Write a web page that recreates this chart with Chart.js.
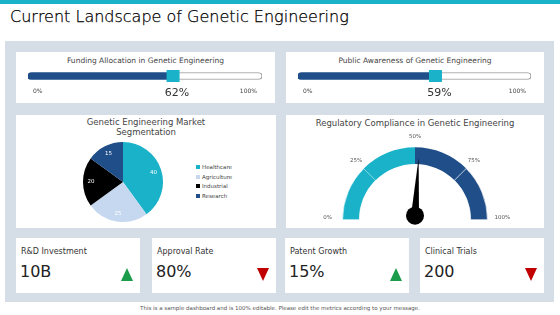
<!DOCTYPE html>
<html>
<head>
<meta charset="utf-8">
<script src="https://cdn.jsdelivr.net/npm/chart.js@4.4.1/dist/chart.umd.min.js"></script>
<style>
  body { margin: 0; width: 560px; height: 315px; position: relative; background: #fff; overflow: hidden;
         font-family: "DejaVu Sans", sans-serif; color: #333; }
  .abs { position: absolute; }
  .topbar { left: 0; top: 0; width: 560px; height: 4px; background: #19b2c9; }
  .title { left: 10px; top: 7px; font-size: 16px; font-weight: 200; color: #000; white-space: nowrap;
           -webkit-text-stroke: 0.25px #000; }
  .panel { left: 5px; top: 41px; width: 549px; height: 261px; background: #d5dee7; }
  .card { background: #fff; }
  .ctitle { font-size: 7.5px; text-align: center; color: #444; white-space: nowrap; }
  .kname { font-size: 8px; color: #333; left: 5px; top: 9px; white-space: nowrap; }
  .kval { font-size: 16px; color: #222; left: 4px; top: 24px; }
  .up { width: 0; height: 0; border-left: 6px solid transparent; border-right: 6px solid transparent;
        border-bottom: 13px solid #1b9c4a; right: 7px; top: 30px; }
  .down { width: 0; height: 0; border-left: 6px solid transparent; border-right: 6px solid transparent;
        border-top: 13px solid #c00000; right: 7px; top: 30px; }
  .legend { font-size: 5.5px; color: #444; }
  .legend div { height: 9.5px; line-height: 9.5px; white-space: nowrap; }
  .legend span { display: inline-block; width: 4px; height: 4px; margin-right: 2px; vertical-align: middle; }
  .footer { left: 0; width: 560px; top: 305px; text-align: center; font-size: 5.5px; color: #555; }
</style>
</head>
<body>
<div class="abs topbar"></div>
<div class="abs title">Current Landscape of Genetic Engineering</div>
<div class="abs panel"></div>

<div class="abs card" style="left:16px;top:52px;width:259px;height:51px"></div>
<div class="abs card" style="left:286px;top:52px;width:258px;height:51px"></div>
<div class="abs card" style="left:16px;top:115px;width:260px;height:113px"></div>
<div class="abs card" style="left:286px;top:115px;width:258px;height:113px"></div>

<div class="abs ctitle" id="pt0" style="left:16px;top:56px;width:259px"></div>
<div class="abs ctitle" id="pt1" style="left:286px;top:56px;width:258px"></div>
<canvas class="abs" id="prog0" style="left:16px;top:52px"></canvas>
<canvas class="abs" id="prog1" style="left:286px;top:52px"></canvas>

<div class="abs ctitle" style="left:16px;top:117px;width:260px;font-size:8.5px;line-height:10px">Genetic Engineering Market<br>Segmentation</div>
<canvas class="abs" id="pie" style="left:80px;top:139px"></canvas>
<div class="abs legend" id="legend" style="left:196px;top:163px"></div>

<div class="abs ctitle" style="left:286px;top:118px;width:258px;font-size:8.5px">Regulatory Compliance in Genetic Engineering</div>
<canvas class="abs" id="gauge" style="left:286px;top:115px"></canvas>

<div id="kpis"></div>
<div class="abs footer">This is a sample dashboard and is 100% editable. Please edit the metrics according to your message.</div>

<script>
const progressTitles = ['Funding Allocation in Genetic Engineering', 'Public Awareness of Genetic Engineering']
const progressValues = [62, 59]
const progressTicks = ['0%', '100%']

const segLabels = ['Healthcare', 'Agriculture', 'Industrial', 'Research']
const segValues = [40, 25, 20, 15]
const segColors = ['#19b2c9', '#c5d8f0', '#000000', '#1f4e89']

const gaugeTicks = ['0%', '25%', '50%', '75%', '100%']
const gaugeBands = [25, 25, 25, 25]
const gaugeColors = ['#19b2c9', '#19b2c9', '#1f4e89', '#1f4e89']
const gaugeValue = 52

const kpiNames = ['R&D Investment', 'Approval Rate', 'Patent Growth', 'Clinical Trials']
const kpiValues = ['10B', '80%', '15%', '200']
const kpiTrend = ['up', 'down', 'up', 'down']

Chart.defaults.font.family = '"DejaVu Sans", sans-serif'
Chart.defaults.animation = false
Chart.defaults.responsive = false
Chart.defaults.plugins.legend.display = false
Chart.defaults.plugins.tooltip.enabled = false

// progress bars
const progressMarks = {
  id: 'progressMarks',
  afterDatasetsDraw(chart) {
    const { ctx, scales: { x }, chartArea } = chart
    const v = chart.data.datasets[0].data[0]
    const px = x.getPixelForValue(v)
    const cy = (chartArea.top + chartArea.bottom) / 2
    ctx.save()
    ctx.fillStyle = '#19b2c9'
    ctx.fillRect(px - 6.5, cy - 6, 13, 12)
    ctx.fillStyle = '#444'
    ctx.font = '6px "DejaVu Sans"'
    ctx.textBaseline = 'middle'
    ctx.textAlign = 'left'
    ctx.fillText(progressTicks[0], x.left + 5, cy + 15)
    ctx.textAlign = 'right'
    ctx.fillText(progressTicks[1], x.right - 5, cy + 15)
    ctx.textAlign = 'center'
    ctx.fillStyle = '#333'
    ctx.font = '11px "DejaVu Sans"'
    ctx.fillText(v + '%', px + 4, cy + 17)
    ctx.restore()
  }
}

progressValues.forEach((val, i) => {
  document.getElementById('pt' + i).textContent = progressTitles[i]
  const cv = document.getElementById('prog' + i)
  cv.width = i === 0 ? 259 : 258
  cv.height = 51
  new Chart(cv, {
    type: 'bar',
    data: {
      labels: [''],
      datasets: [
        { data: [val], backgroundColor: '#1f4e89', barThickness: 7,
          borderRadius: { topLeft: 4, bottomLeft: 4 }, borderSkipped: false },
        { data: [100 - val], backgroundColor: '#fff', borderColor: '#999', borderWidth: 1, barThickness: 7,
          borderRadius: { topRight: 4, bottomRight: 4 }, borderSkipped: 'left' }
      ]
    },
    options: {
      indexAxis: 'y',
      layout: { padding: { left: 12, right: 13, top: 20, bottom: 23 } },
      scales: {
        x: { stacked: true, min: 0, max: 100, display: false },
        y: { stacked: true, display: false }
      }
    },
    plugins: [progressMarks]
  })
})

// pie
const pieLabels = {
  id: 'pieLabels',
  afterDatasetsDraw(chart) {
    const { ctx } = chart
    ctx.save()
    ctx.fillStyle = '#fff'
    ctx.font = '5.5px "DejaVu Sans"'
    ctx.textAlign = 'center'
    ctx.textBaseline = 'middle'
    chart.getDatasetMeta(0).data.forEach((arc, i) => {
      const p = arc.getProps(['x', 'y', 'startAngle', 'endAngle', 'outerRadius'])
      const a = (p.startAngle + p.endAngle) / 2
      const r = p.outerRadius * 0.8
      ctx.fillText(segValues[i], p.x + Math.cos(a) * r, p.y + Math.sin(a) * r)
    })
    ctx.restore()
  }
}
const pieCv = document.getElementById('pie')
pieCv.width = 86
pieCv.height = 86
new Chart(pieCv, {
  type: 'pie',
  data: { labels: segLabels, datasets: [{ data: segValues, backgroundColor: segColors, borderWidth: 0 }] },
  options: { layout: { padding: 3 } },
  plugins: [pieLabels]
})
document.getElementById('legend').innerHTML = segLabels
  .map((l, i) => `<div><span style="background:${segColors[i]}"></span>${l}</div>`).join('')

// gauge
const gaugeMarks = {
  id: 'gaugeMarks',
  afterDatasetsDraw(chart) {
    const { ctx } = chart
    const arc = chart.getDatasetMeta(0).data[0]
    const { x: cx, y: cy, outerRadius: R } = arc.getProps(['x', 'y', 'outerRadius'])
    ctx.save()
    ctx.fillStyle = '#555'
    ctx.font = '5.5px "DejaVu Sans"'
    ctx.textAlign = 'center'
    ctx.textBaseline = 'middle'
    gaugeTicks.forEach((t, i) => {
      const a = Math.PI + (i / (gaugeTicks.length - 1)) * Math.PI
      const r = (i === 0 || i === gaugeTicks.length - 1) ? R + 15 : R + 11
      ctx.fillText(t, cx + Math.cos(a) * r, cy + Math.sin(a) * r - (i === 0 || i === 4 ? 2 : 0))
    })
    // needle
    const a = Math.PI + (gaugeValue / 100) * Math.PI
    const hx = cx, hy = cy - 4
    const tx = hx + Math.cos(a) * 58, ty = hy + Math.sin(a) * 58
    const nx = -Math.sin(a) * 4, ny = Math.cos(a) * 4
    ctx.fillStyle = '#000'
    ctx.beginPath()
    ctx.moveTo(tx, ty)
    ctx.lineTo(hx + nx, hy + ny)
    ctx.lineTo(hx - nx, hy - ny)
    ctx.closePath()
    ctx.fill()
    ctx.beginPath()
    ctx.arc(hx, hy, 9, 0, Math.PI * 2)
    ctx.fill()
    ctx.restore()
  }
}
const gaugeCv = document.getElementById('gauge')
gaugeCv.width = 258
gaugeCv.height = 113
new Chart(gaugeCv, {
  type: 'doughnut',
  data: { labels: gaugeTicks.slice(1), datasets: [{ data: gaugeBands, backgroundColor: gaugeColors,
    borderColor: '#fff', borderWidth: [0.6, 0, 0, 0.6] }] },
  options: {
    rotation: -90,
    circumference: 180,
    cutout: '77%',
    layout: { padding: { left: 56, right: 56, top: 32, bottom: 8 } }
  },
  plugins: [gaugeMarks]
})

// kpi cards
const kpiLeft = [16, 152, 285, 420]
document.getElementById('kpis').innerHTML = kpiNames.map((n, i) => `
  <div class="abs card" style="left:${kpiLeft[i]}px;top:238px;width:124px;height:55px">
    <div class="abs kname">${n.replace('&', '&amp;')}</div>
    <div class="abs kval">${kpiValues[i]}</div>
    <div class="abs ${kpiTrend[i]}"></div>
  </div>`).join('')
</script>
</body>
</html>
